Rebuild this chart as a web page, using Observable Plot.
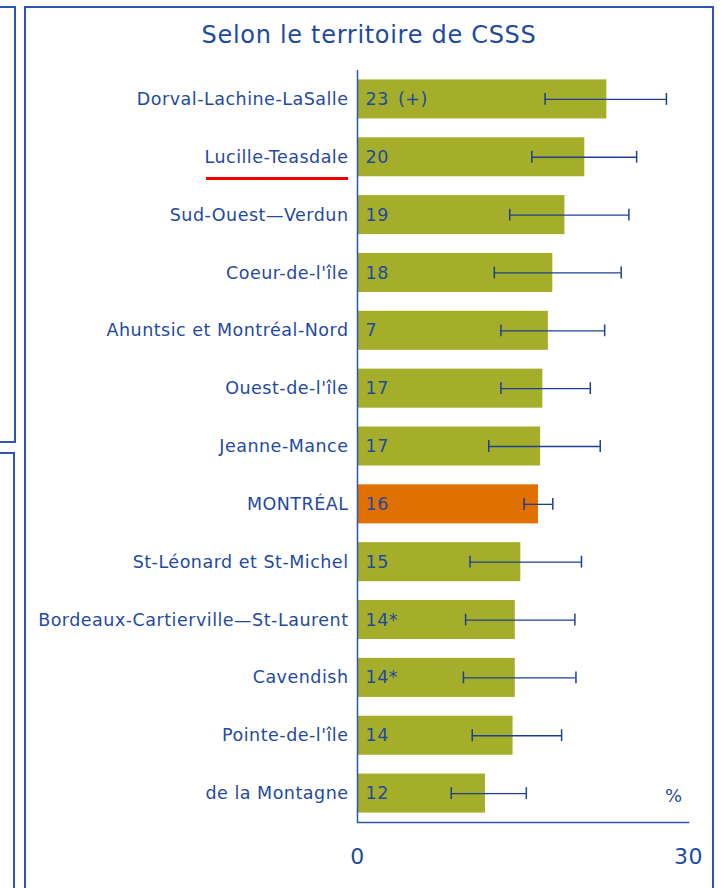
<!DOCTYPE html>
<html>
<head>
<meta charset="utf-8">
<script src="https://cdn.jsdelivr.net/npm/d3@7"></script>
<script src="https://cdn.jsdelivr.net/npm/@observablehq/plot@0.6"></script>
<style>
  html, body { margin: 0; padding: 0; background: #fff; }
  #wrap { position: relative; width: 721px; height: 888px; overflow: hidden; font-family: "DejaVu Sans", Verdana, sans-serif; }
  #chart { position: absolute; left: 0; top: 0; }
  .box { position: absolute; border: 2px solid #2d56b3; box-sizing: border-box; }
  #title { position: absolute; left: 25px; width: 688px; top: 18px; text-align: center; color: #1f4aa0; font-size: 24px; letter-spacing: 0.7px; line-height: 34px; }
  #redline { position: absolute; left: 206px; top: 177px; width: 142px; height: 3px; background: #f00000; }
  #chart svg text { letter-spacing: 0.5px; }
</style>
</head>
<body>
<div id="wrap">
  <div class="box" style="left:-20px; top:6px; width:36px; height:437px;"></div>
  <div class="box" style="left:-20px; top:452px; width:35px; height:460px;"></div>
  <div class="box" style="left:24px; top:6px; width:690px; height:920px;"></div>
  <div id="chart"></div>
  <div id="title">Selon le territoire de CSSS</div>
  <div id="redline"></div>
</div>
<script>
const categories = ["Dorval-Lachine-LaSalle", "Lucille-Teasdale", "Sud-Ouest—Verdun", "Coeur-de-l'île",
  "Ahuntsic et Montréal-Nord", "Ouest-de-l'île", "Jeanne-Mance", "MONTRÉAL", "St-Léonard et St-Michel",
  "Bordeaux-Cartierville—St-Laurent", "Cavendish", "Pointe-de-l'île", "de la Montagne"];
const values = [22.6, 20.6, 18.8, 17.7, 17.3, 16.8, 16.6, 16.4, 14.8, 14.3, 14.3, 14.1, 11.6];
const lower  = [17.0, 15.8, 13.8, 12.4, 13.0, 13.0, 11.9, 15.1, 10.2, 9.8, 9.6, 10.4, 8.5];
const upper  = [28.0, 25.3, 24.6, 23.9, 22.4, 21.1, 22.0, 17.7, 20.3, 19.7, 19.8, 18.5, 15.3];
const valueLabels = ["23\u2002(+)", "20", "19", "18", "7", "17", "17", "16", "15", "14*", "14*", "14", "12"];
const xTicks = [0, 30];
const unitLabel = "%";
const highlight = "MONTRÉAL";

const data = categories.map((c, i) => ({cat: c, v: values[i], lo: lower[i], hi: upper[i], lab: valueLabels[i]}));

const blue = "#1f4aa0";
const errBlue = "#1d3f94";
const olive = "#a5ae2a";
const orange = "#e07000";

const plot = Plot.plot({
  width: 721,
  height: 888,
  marginLeft: 357,
  marginRight: 33,
  marginTop: 70,
  marginBottom: 66,
  style: {fontFamily: "'DejaVu Sans', Verdana, sans-serif", background: "transparent", color: blue},
  x: {domain: [0, 30], axis: null},
  y: {domain: categories, padding: 0, round: false, axis: null},
  marks: [
    Plot.barX(data, {y: "cat", x: "v", fill: d => d.cat === highlight ? orange : olive, insetTop: 9.4, insetBottom: 9.4}),
    Plot.ruleY(data, {y: "cat", x1: "lo", x2: "hi", stroke: errBlue, strokeWidth: 1.3}),
    Plot.tickX(data, {y: "cat", x: "lo", stroke: errBlue, strokeWidth: 1.5, insetTop: 23, insetBottom: 23}),
    Plot.tickX(data, {y: "cat", x: "hi", stroke: errBlue, strokeWidth: 1.5, insetTop: 23, insetBottom: 23}),
    Plot.text(data, {y: "cat", x: 0, text: "lab", textAnchor: "start", dx: 8, fill: blue, fontSize: 17.5}),
    Plot.axisY({tickSize: 0, tickPadding: 9, fontSize: 17.5, label: null, color: blue}),
    Plot.axisX({ticks: xTicks, tickSize: 0, tickPadding: 26, fontSize: 22, label: null, tickFormat: d => String(d), color: blue}),
    Plot.ruleX([0], {stroke: "#2d56b3", strokeWidth: 1.5}),
    Plot.frame({anchor: "bottom", stroke: "#2d56b3", strokeWidth: 1.5}),
    Plot.text([{x: 30, cat: categories[categories.length - 1]}], {x: "x", y: "cat", text: () => unitLabel, textAnchor: "end", dx: -6, dy: 3, fill: blue, fontSize: 18})
  ]
});
document.getElementById("chart").appendChild(plot);
</script>
</body>
</html>
